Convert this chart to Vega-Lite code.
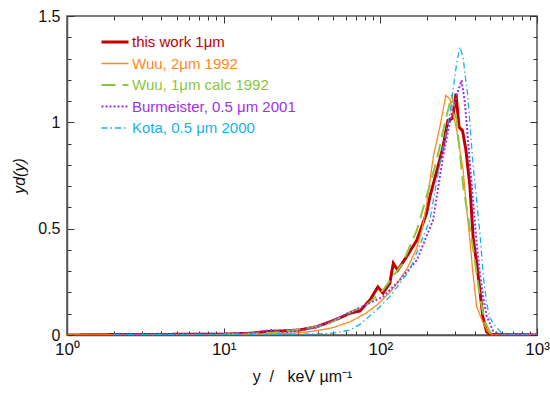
{
  "$schema": "https://vega.github.io/schema/vega-lite/v6.json",
  "width": 470,
  "height": 319,
  "autosize": "none",
  "padding": {"left": 67, "top": 16, "right": 13, "bottom": 63},
  "background": "white",
  "config": {
    "font": "Liberation Sans",
    "view": {"stroke": "#555555", "strokeWidth": 1.5},
    "axis": {"labelFont": "Liberation Sans", "titleFont": "Liberation Sans", "labelColor": "#111", "titleColor": "#111", "labelFontSize": 15, "titleFontSize": 16, "titleFontWeight": "normal", "domainColor": "#555555", "domainWidth": 1.5, "tickColor": "#333", "grid": false}
  },
  "datasets": {
    "curves": [
      {"s": "this work 1μm", "x": 1, "y": 0},
      {"s": "this work 1μm", "x": 2, "y": 0.002},
      {"s": "this work 1μm", "x": 5, "y": 0.003},
      {"s": "this work 1μm", "x": 10, "y": 0.004},
      {"s": "this work 1μm", "x": 14.7, "y": 0.008},
      {"s": "this work 1μm", "x": 18.8, "y": 0.016},
      {"s": "this work 1μm", "x": 25, "y": 0.02},
      {"s": "this work 1μm", "x": 30.7, "y": 0.024},
      {"s": "this work 1μm", "x": 39.3, "y": 0.039},
      {"s": "this work 1μm", "x": 47.7, "y": 0.062},
      {"s": "this work 1μm", "x": 55, "y": 0.08},
      {"s": "this work 1μm", "x": 64, "y": 0.103},
      {"s": "this work 1μm", "x": 74, "y": 0.113},
      {"s": "this work 1μm", "x": 85.8, "y": 0.164},
      {"s": "this work 1μm", "x": 96.5, "y": 0.226},
      {"s": "this work 1μm", "x": 104, "y": 0.197},
      {"s": "this work 1μm", "x": 115, "y": 0.244},
      {"s": "this work 1μm", "x": 121, "y": 0.337},
      {"s": "this work 1μm", "x": 129, "y": 0.305},
      {"s": "this work 1μm", "x": 147, "y": 0.368},
      {"s": "this work 1μm", "x": 171, "y": 0.446},
      {"s": "this work 1μm", "x": 197, "y": 0.571},
      {"s": "this work 1μm", "x": 207, "y": 0.65},
      {"s": "this work 1μm", "x": 233, "y": 0.79},
      {"s": "this work 1μm", "x": 251, "y": 0.883},
      {"s": "this work 1μm", "x": 270, "y": 1.009},
      {"s": "this work 1μm", "x": 289, "y": 1.019},
      {"s": "this work 1μm", "x": 304, "y": 1.135},
      {"s": "this work 1μm", "x": 318, "y": 0.978},
      {"s": "this work 1μm", "x": 335, "y": 0.96},
      {"s": "this work 1μm", "x": 352, "y": 0.869},
      {"s": "this work 1μm", "x": 373, "y": 0.70},
      {"s": "this work 1μm", "x": 392, "y": 0.45},
      {"s": "this work 1μm", "x": 412, "y": 0.34},
      {"s": "this work 1μm", "x": 432, "y": 0.21},
      {"s": "this work 1μm", "x": 451, "y": 0.086},
      {"s": "this work 1μm", "x": 477, "y": 0.015},
      {"s": "this work 1μm", "x": 500, "y": 0.003},
      {"s": "this work 1μm", "x": 1000, "y": 0},
      {"s": "Wuu, 2μm 1992", "x": 1, "y": 0},
      {"s": "Wuu, 2μm 1992", "x": 10, "y": 0.002},
      {"s": "Wuu, 2μm 1992", "x": 20, "y": 0.005},
      {"s": "Wuu, 2μm 1992", "x": 30, "y": 0.01},
      {"s": "Wuu, 2μm 1992", "x": 39.2, "y": 0.02},
      {"s": "Wuu, 2μm 1992", "x": 50, "y": 0.035},
      {"s": "Wuu, 2μm 1992", "x": 64, "y": 0.062},
      {"s": "Wuu, 2μm 1992", "x": 80, "y": 0.1},
      {"s": "Wuu, 2μm 1992", "x": 94.7, "y": 0.14},
      {"s": "Wuu, 2μm 1992", "x": 115, "y": 0.2},
      {"s": "Wuu, 2μm 1992", "x": 133, "y": 0.26},
      {"s": "Wuu, 2μm 1992", "x": 150, "y": 0.32},
      {"s": "Wuu, 2μm 1992", "x": 171, "y": 0.41},
      {"s": "Wuu, 2μm 1992", "x": 185, "y": 0.5},
      {"s": "Wuu, 2μm 1992", "x": 197, "y": 0.61},
      {"s": "Wuu, 2μm 1992", "x": 218, "y": 0.84},
      {"s": "Wuu, 2μm 1992", "x": 240, "y": 0.98},
      {"s": "Wuu, 2μm 1992", "x": 262, "y": 1.127},
      {"s": "Wuu, 2μm 1992", "x": 278, "y": 1.11},
      {"s": "Wuu, 2μm 1992", "x": 295, "y": 1.02},
      {"s": "Wuu, 2μm 1992", "x": 307, "y": 0.963},
      {"s": "Wuu, 2μm 1992", "x": 337, "y": 0.78},
      {"s": "Wuu, 2μm 1992", "x": 355, "y": 0.6},
      {"s": "Wuu, 2μm 1992", "x": 373, "y": 0.446},
      {"s": "Wuu, 2μm 1992", "x": 390, "y": 0.29},
      {"s": "Wuu, 2μm 1992", "x": 412, "y": 0.133},
      {"s": "Wuu, 2μm 1992", "x": 450, "y": 0.062},
      {"s": "Wuu, 2μm 1992", "x": 486, "y": 0.015},
      {"s": "Wuu, 2μm 1992", "x": 520, "y": 0},
      {"s": "Wuu, 2μm 1992", "x": 1000, "y": 0},
      {"s": "Wuu, 1μm calc 1992", "x": 10, "y": 0.003},
      {"s": "Wuu, 1μm calc 1992", "x": 20, "y": 0.01},
      {"s": "Wuu, 1μm calc 1992", "x": 30, "y": 0.025},
      {"s": "Wuu, 1μm calc 1992", "x": 40, "y": 0.04},
      {"s": "Wuu, 1μm calc 1992", "x": 47.7, "y": 0.056},
      {"s": "Wuu, 1μm calc 1992", "x": 61, "y": 0.1},
      {"s": "Wuu, 1μm calc 1992", "x": 81.8, "y": 0.141},
      {"s": "Wuu, 1μm calc 1992", "x": 104, "y": 0.211},
      {"s": "Wuu, 1μm calc 1992", "x": 139, "y": 0.338},
      {"s": "Wuu, 1μm calc 1992", "x": 171, "y": 0.493},
      {"s": "Wuu, 1μm calc 1992", "x": 197, "y": 0.65},
      {"s": "Wuu, 1μm calc 1992", "x": 229, "y": 0.822},
      {"s": "Wuu, 1μm calc 1992", "x": 258, "y": 0.995},
      {"s": "Wuu, 1μm calc 1992", "x": 286, "y": 1.13},
      {"s": "Wuu, 1μm calc 1992", "x": 307, "y": 1.01},
      {"s": "Wuu, 1μm calc 1992", "x": 338, "y": 0.70},
      {"s": "Wuu, 1μm calc 1992", "x": 392, "y": 0.4},
      {"s": "Wuu, 1μm calc 1992", "x": 432, "y": 0.18},
      {"s": "Wuu, 1μm calc 1992", "x": 465, "y": 0.062},
      {"s": "Wuu, 1μm calc 1992", "x": 500, "y": 0.015},
      {"s": "Wuu, 1μm calc 1992", "x": 530, "y": 0},
      {"s": "Burmeister, 0.5 μm 2001", "x": 2, "y": 0.005},
      {"s": "Burmeister, 0.5 μm 2001", "x": 5, "y": 0.005},
      {"s": "Burmeister, 0.5 μm 2001", "x": 10, "y": 0.006},
      {"s": "Burmeister, 0.5 μm 2001", "x": 15, "y": 0.01},
      {"s": "Burmeister, 0.5 μm 2001", "x": 20, "y": 0.023},
      {"s": "Burmeister, 0.5 μm 2001", "x": 25, "y": 0.013},
      {"s": "Burmeister, 0.5 μm 2001", "x": 30, "y": 0.02},
      {"s": "Burmeister, 0.5 μm 2001", "x": 40, "y": 0.04},
      {"s": "Burmeister, 0.5 μm 2001", "x": 47.7, "y": 0.062},
      {"s": "Burmeister, 0.5 μm 2001", "x": 70, "y": 0.12},
      {"s": "Burmeister, 0.5 μm 2001", "x": 104, "y": 0.18},
      {"s": "Burmeister, 0.5 μm 2001", "x": 133, "y": 0.258},
      {"s": "Burmeister, 0.5 μm 2001", "x": 171, "y": 0.352},
      {"s": "Burmeister, 0.5 μm 2001", "x": 217, "y": 0.54},
      {"s": "Burmeister, 0.5 μm 2001", "x": 251, "y": 0.836},
      {"s": "Burmeister, 0.5 μm 2001", "x": 285, "y": 1.042},
      {"s": "Burmeister, 0.5 μm 2001", "x": 313, "y": 1.146},
      {"s": "Burmeister, 0.5 μm 2001", "x": 330, "y": 1.197},
      {"s": "Burmeister, 0.5 μm 2001", "x": 347, "y": 1.09},
      {"s": "Burmeister, 0.5 μm 2001", "x": 373, "y": 0.807},
      {"s": "Burmeister, 0.5 μm 2001", "x": 412, "y": 0.43},
      {"s": "Burmeister, 0.5 μm 2001", "x": 432, "y": 0.29},
      {"s": "Burmeister, 0.5 μm 2001", "x": 455, "y": 0.17},
      {"s": "Burmeister, 0.5 μm 2001", "x": 477, "y": 0.09},
      {"s": "Burmeister, 0.5 μm 2001", "x": 523, "y": 0.02},
      {"s": "Burmeister, 0.5 μm 2001", "x": 579, "y": 0.005},
      {"s": "Burmeister, 0.5 μm 2001", "x": 1000, "y": 0.005},
      {"s": "Kota, 0.5 μm 2000", "x": 2, "y": 0.002},
      {"s": "Kota, 0.5 μm 2000", "x": 10, "y": 0.002},
      {"s": "Kota, 0.5 μm 2000", "x": 20, "y": 0.003},
      {"s": "Kota, 0.5 μm 2000", "x": 40, "y": 0.005},
      {"s": "Kota, 0.5 μm 2000", "x": 50, "y": 0.009},
      {"s": "Kota, 0.5 μm 2000", "x": 64, "y": 0.023},
      {"s": "Kota, 0.5 μm 2000", "x": 74, "y": 0.05},
      {"s": "Kota, 0.5 μm 2000", "x": 94.7, "y": 0.117},
      {"s": "Kota, 0.5 μm 2000", "x": 115, "y": 0.181},
      {"s": "Kota, 0.5 μm 2000", "x": 154, "y": 0.305},
      {"s": "Kota, 0.5 μm 2000", "x": 207, "y": 0.54},
      {"s": "Kota, 0.5 μm 2000", "x": 240, "y": 0.807},
      {"s": "Kota, 0.5 μm 2000", "x": 278, "y": 1.042},
      {"s": "Kota, 0.5 μm 2000", "x": 307, "y": 1.277},
      {"s": "Kota, 0.5 μm 2000", "x": 322, "y": 1.354},
      {"s": "Kota, 0.5 μm 2000", "x": 337, "y": 1.307},
      {"s": "Kota, 0.5 μm 2000", "x": 362, "y": 1.12},
      {"s": "Kota, 0.5 μm 2000", "x": 390, "y": 0.807},
      {"s": "Kota, 0.5 μm 2000", "x": 432, "y": 0.48},
      {"s": "Kota, 0.5 μm 2000", "x": 455, "y": 0.27},
      {"s": "Kota, 0.5 μm 2000", "x": 477, "y": 0.15},
      {"s": "Kota, 0.5 μm 2000", "x": 500, "y": 0.08},
      {"s": "Kota, 0.5 μm 2000", "x": 538, "y": 0.045},
      {"s": "Kota, 0.5 μm 2000", "x": 594, "y": 0.01},
      {"s": "Kota, 0.5 μm 2000", "x": 650, "y": 0},
      {"s": "Kota, 0.5 μm 2000", "x": 1000, "y": 0}
    ]
  },
  "data": {"name": "curves"},
  "layer": [
    {
      "mark": {"type": "line", "clip": true, "strokeCap": "butt"},
      "encoding": {
        "x": {
          "field": "x", "type": "quantitative",
          "scale": {"type": "log", "domain": [1, 1000], "nice": false},
          "title": "y \u00a0/ \u00a0 keV µm⁻¹",
          "axis": {
            "values": [1,2,3,4,5,6,7,8,9,10,20,30,40,50,60,70,80,90,100,200,300,400,500,600,700,800,900,1000],
            "labelExpr": "datum.value == 1 ? '10⁰' : datum.value == 10 ? '10¹' : datum.value == 100 ? '10²' : datum.value == 1000 ? '10³' : ''",
            "tickSize": {"condition": {"test": "datum.value == 1 || datum.value == 10 || datum.value == 100 || datum.value == 1000", "value": -7}, "value": -4},
            "labelPadding": 13,
            "labelFontSize": 17,
            "labelFlush": false,
            "titlePadding": 11
          }
        },
        "y": {
          "field": "y", "type": "quantitative",
          "scale": {"domain": [0, 1.5], "nice": false},
          "title": "yd(y)",
          "axis": {
            "values": [0,0.1,0.2,0.3,0.4,0.5,0.6,0.7,0.8,0.9,1,1.1,1.2,1.3,1.4,1.5],
            "labelExpr": "abs(datum.value - round(datum.value*2)/2) < 0.001 ? format(datum.value, '~g') : ''",
            "tickSize": {"condition": {"test": "abs(datum.value - round(datum.value*2)/2) < 0.001", "value": -7}, "value": -4},
            "labelPadding": 14,
            "titleFontStyle": "italic",
            "titlePadding": 10,
            "labelFontSize": 16
          }
        },
        "color": {
          "field": "s", "type": "nominal",
          "scale": {
            "domain": ["this work 1μm", "Wuu, 2μm 1992", "Wuu, 1μm calc 1992", "Burmeister, 0.5 μm 2001", "Kota, 0.5 μm 2000"],
            "range": ["#C00000", "#FF8A1C", "#8CC63E", "#A030E8", "#18B0EA"]
          },
          "legend": {
            "title": null,
            "orient": "none",
            "legendX": 33,
            "legendY": 17,
            "symbolType": "stroke",
            "symbolSize": 729,
            "symbolStrokeWidth": 2,
            "clipHeight": 18,
            "labelFontSize": 15,
            "labelFont": "Liberation Sans",
            "rowPadding": 3.5,
            "labelOffset": 2,
            "labelLimit": 300,
            "encode": {"labels": {"update": {"fill": {"scale": "color", "field": "value"}}}}
          }
        },
        "strokeDash": {
          "field": "s", "type": "nominal",
          "scale": {
            "domain": ["this work 1μm", "Wuu, 2μm 1992", "Wuu, 1μm calc 1992", "Burmeister, 0.5 μm 2001", "Kota, 0.5 μm 2000"],
            "range": [[1, 0], [1, 0], [14, 7], [2, 2], [6, 3, 1.5, 3]]
          },
          "legend": null
        },
        "strokeWidth": {
          "field": "s", "type": "nominal",
          "scale": {
            "type": "ordinal",
            "domain": ["this work 1μm", "Wuu, 2μm 1992", "Wuu, 1μm calc 1992", "Burmeister, 0.5 μm 2001", "Kota, 0.5 μm 2000"],
            "range": [3, 1.3, 2, 2, 1.3]
          },
          "legend": null
        }
      }
    },
    {
      "mark": {"type": "point", "opacity": 0},
      "encoding": {
        "x": {
          "field": "x", "type": "quantitative",
          "scale": {"type": "log", "domain": [1, 1000], "nice": false},
          "axis": {
            "orient": "top", "title": null, "labels": false, "domain": false,
            "values": [1,2,3,4,5,6,7,8,9,10,20,30,40,50,60,70,80,90,100,200,300,400,500,600,700,800,900,1000],
            "tickSize": {"condition": {"test": "datum.value == 1 || datum.value == 10 || datum.value == 100 || datum.value == 1000", "value": -7}, "value": -4}
          }
        },
        "y": {
          "field": "y", "type": "quantitative",
          "scale": {"domain": [0, 1.5], "nice": false},
          "axis": {
            "orient": "right", "title": null, "labels": false, "domain": false,
            "values": [0,0.1,0.2,0.3,0.4,0.5,0.6,0.7,0.8,0.9,1,1.1,1.2,1.3,1.4,1.5],
            "tickSize": {"condition": {"test": "abs(datum.value - round(datum.value*2)/2) < 0.001", "value": -7}, "value": -4}
          }
        }
      }
    }
  ],
  "resolve": {"axis": {"x": "independent", "y": "independent"}}
}
